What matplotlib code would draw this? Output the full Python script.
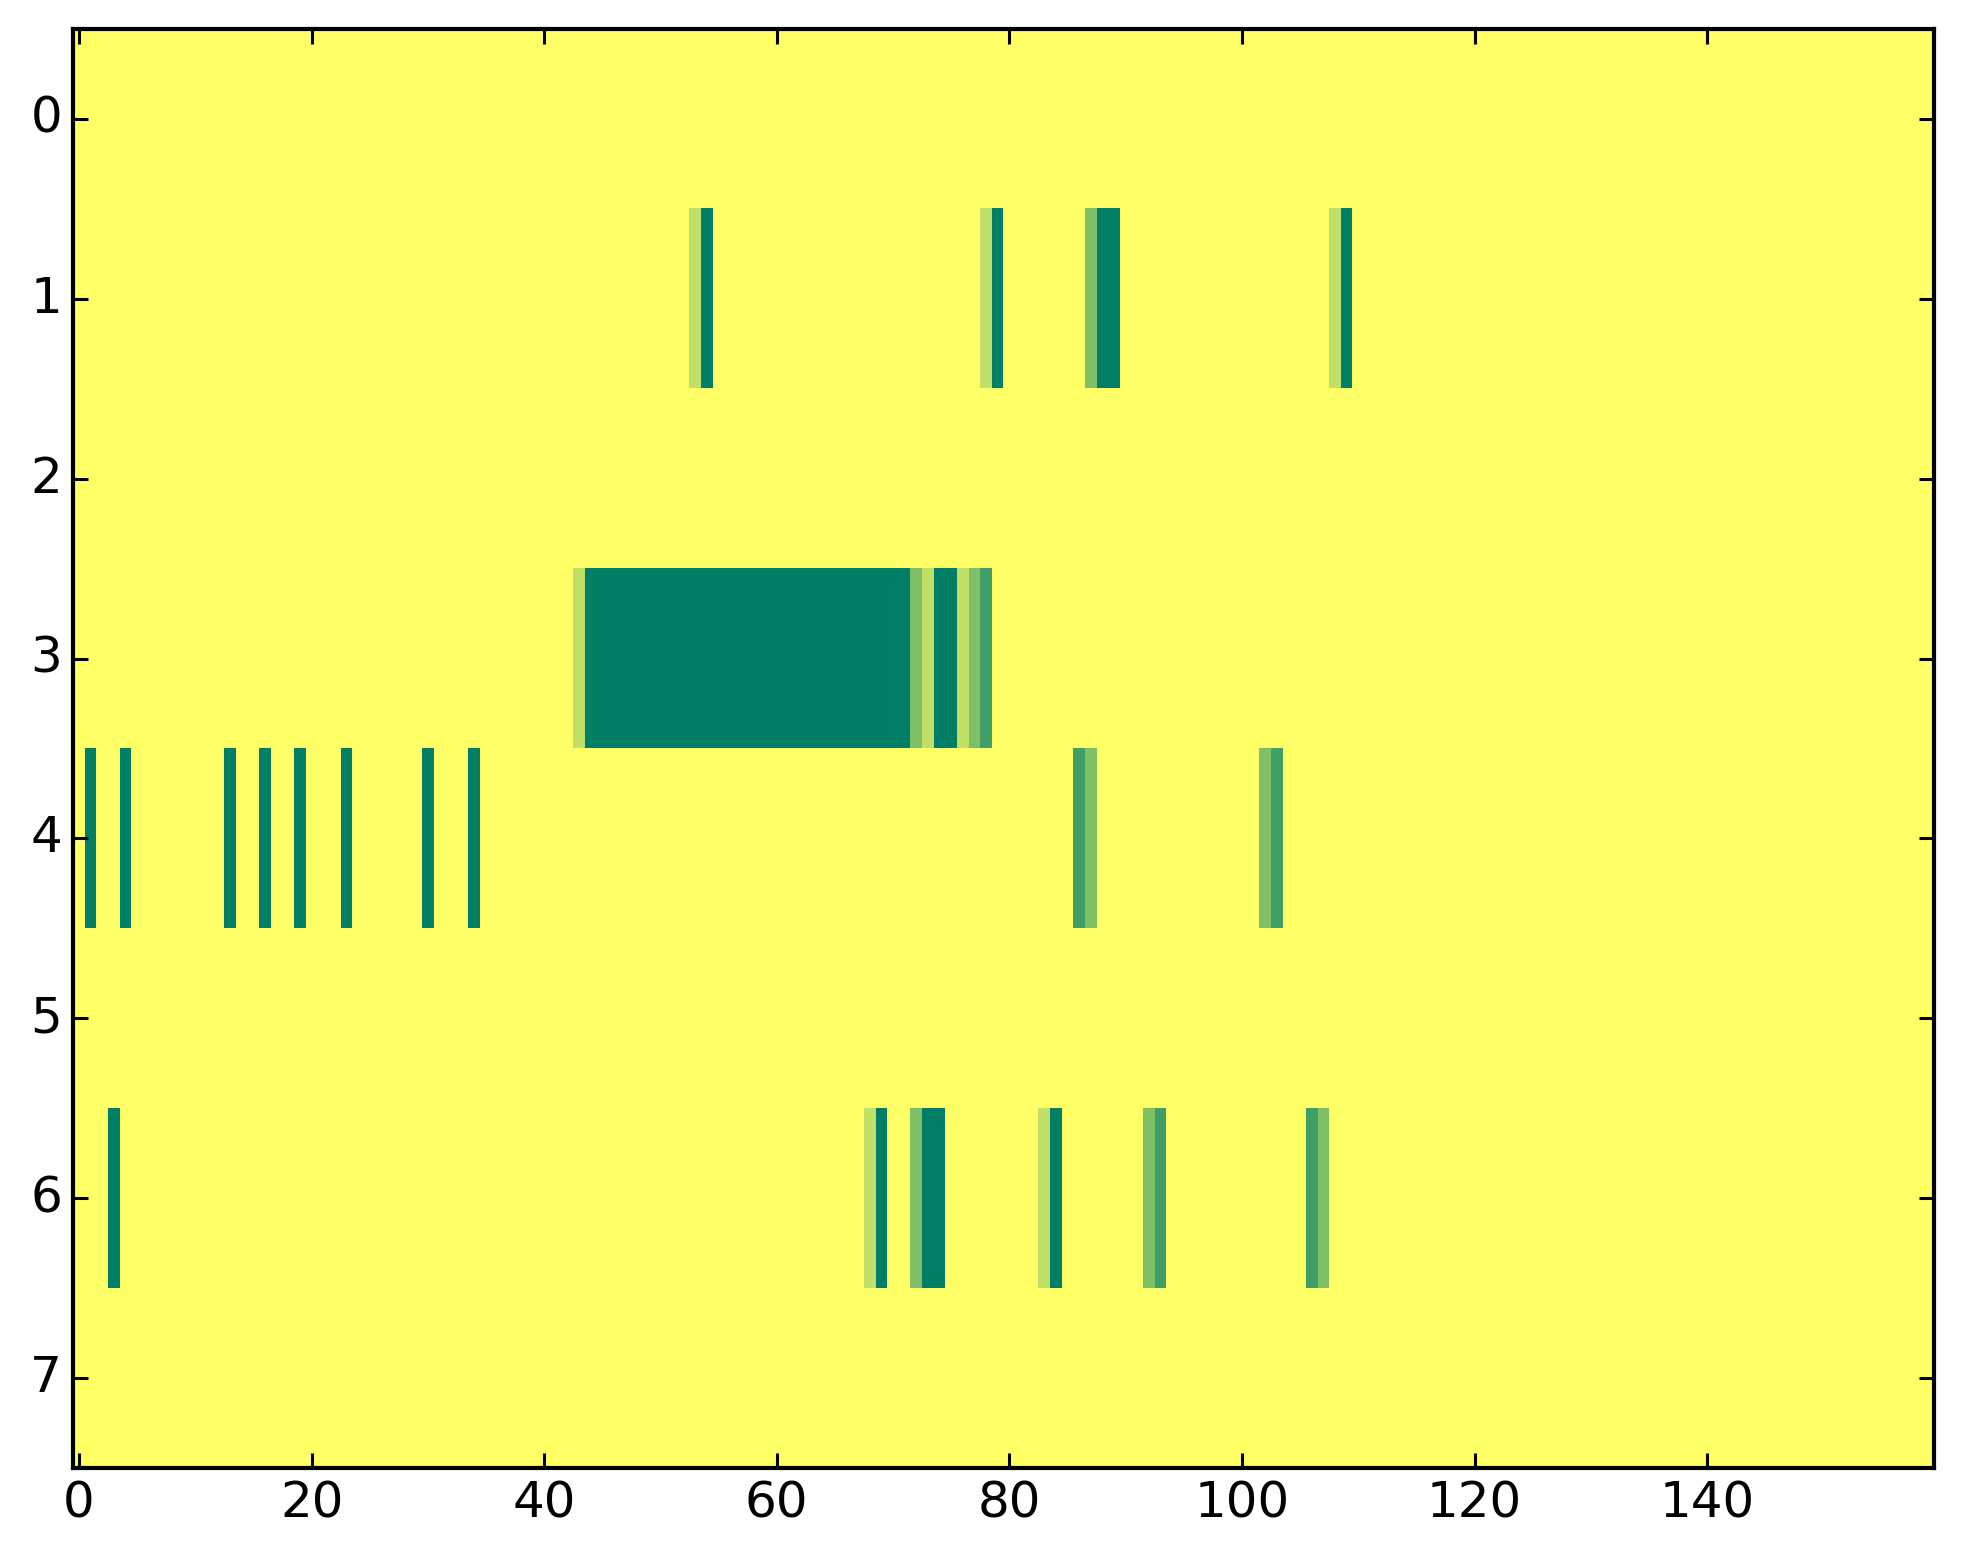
import numpy as np
import matplotlib
matplotlib.use("Agg")
import matplotlib.pyplot as plt

plt.style.use("classic")

n_rows = 8
n_cols = 160

# nonzero cells per row: column index -> value
row1_cols = [53, 54, 78, 79, 87, 88, 89, 108, 109]
row1_vals = [0.25, 1, 0.25, 1, 0.5, 1, 1, 0.25, 1]

row3_cols = [43] + list(range(44, 72)) + [72, 73, 74, 75, 76, 77, 78]
row3_vals = [0.25] + [1] * 28 + [0.5, 0.25, 1, 1, 0.25, 0.5, 0.75]

row4_cols = [1, 4, 13, 16, 19, 23, 30, 34, 86, 87, 102, 103]
row4_vals = [1, 1, 1, 1, 1, 1, 1, 1, 0.75, 0.5, 0.5, 0.75]

row6_cols = [3, 68, 69, 72, 73, 74, 83, 84, 92, 93, 106, 107]
row6_vals = [1, 0.25, 1, 0.5, 1, 1, 0.25, 1, 0.5, 0.75, 0.75, 0.5]

grid = np.zeros((n_rows, n_cols))
for r, cols, vals in [(1, row1_cols, row1_vals), (3, row3_cols, row3_vals),
                      (4, row4_cols, row4_vals), (6, row6_cols, row6_vals)]:
    grid[r, cols] = vals

fig = plt.figure(figsize=(9.815, 7.82), dpi=200, facecolor="white")
ax = fig.add_axes([0.0373, 0.0614, 0.9479, 0.9201])
ax.imshow(grid, cmap="summer_r", vmin=0, vmax=1, aspect="auto",
          interpolation="nearest")

ax.set_xticks(np.arange(0, 141, 20))
ax.set_yticks(np.arange(0, 8))
ax.tick_params(labelsize=18, length=5.5, width=1.1, direction="in",
               top=True, right=True)
for s in ax.spines.values():
    s.set_linewidth(1.5)

fig.savefig("out.png", dpi=200, facecolor="white")
